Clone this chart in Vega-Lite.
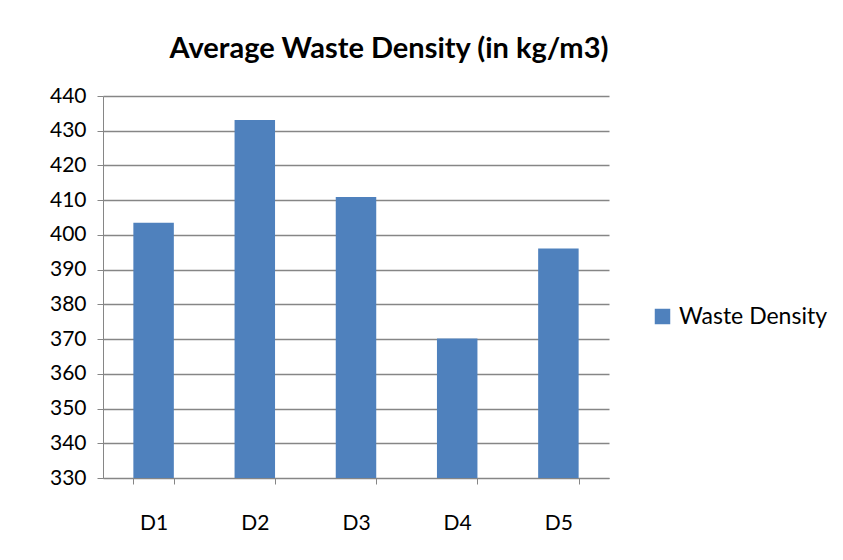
{
  "$schema": "https://vega.github.io/schema/vega-lite/v6.json",
  "width": 506,
  "height": 382,
  "autosize": {"type": "none"},
  "padding": {"left": 103, "top": 96, "right": 234, "bottom": 82},
  "background": "white",
  "title": {
    "text": "Average Waste Density (in kg/m3)",
    "font": "Lato",
    "fontSize": 29,
    "fontWeight": "bold",
    "color": "#000000",
    "anchor": "middle",
    "dx": 33,
    "offset": 21
  },
  "data": {
    "values": [
      {"district": "D1", "series": "Waste Density", "density": 403.5},
      {"district": "D2", "series": "Waste Density", "density": 433.1},
      {"district": "D3", "series": "Waste Density", "density": 410.9},
      {"district": "D4", "series": "Waste Density", "density": 370.2},
      {"district": "D5", "series": "Waste Density", "density": 396.1}
    ]
  },
  "mark": {"type": "bar", "clip": true},
  "encoding": {
    "x": {
      "field": "district",
      "type": "nominal",
      "sort": null,
      "scale": {"paddingInner": 0.6, "paddingOuter": 0.3},
      "axis": {
        "title": null,
        "labelAngle": 0,
        "labelFont": "Lato",
        "labelFontSize": 21,
        "labelColor": "#000000",
        "labelPadding": 28,
        "domainColor": "#868686",
        "tickColor": "#868686",
        "tickSize": 6,
        "tickBand": "extent",
        "grid": false
      }
    },
    "y": {
      "field": "density",
      "type": "quantitative",
      "scale": {"domain": [330, 440], "nice": false, "zero": false},
      "axis": {
        "title": null,
        "values": [330, 340, 350, 360, 370, 380, 390, 400, 410, 420, 430, 440],
        "labelFont": "Lato",
        "labelFontSize": 21,
        "labelColor": "#000000",
        "labelPadding": 11,
        "domainColor": "#868686",
        "tickColor": "#868686",
        "tickSize": 6,
        "gridColor": "#868686",
        "gridWidth": 1.3
      }
    },
    "color": {
      "field": "series",
      "type": "nominal",
      "scale": {"range": ["#4F81BD"]},
      "legend": {
        "title": null,
        "orient": "none",
        "legendX": 548,
        "legendY": 209,
        "symbolType": "square",
        "symbolSize": 240,
        "symbolStrokeWidth": 0,
        "labelFont": "Lato",
        "labelFontSize": 23,
        "labelColor": "#000000",
        "labelOffset": 5
      }
    }
  },
  "config": {"view": {"stroke": null}}
}
